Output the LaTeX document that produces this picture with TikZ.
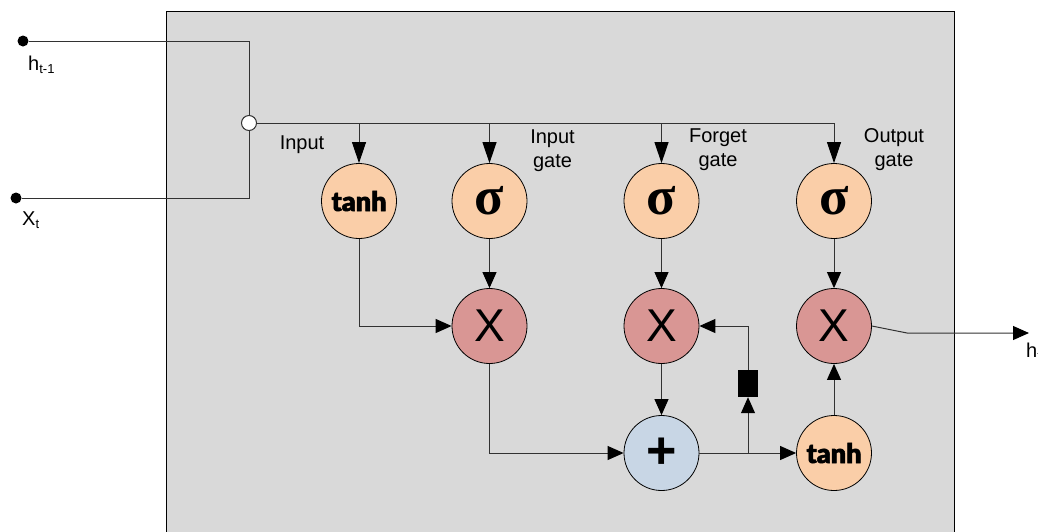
\documentclass[tikz,border=0pt]{standalone}
\usepackage{fontspec}
\setmainfont{Liberation Sans}
\newfontfamily\heavyfont{Lato Black}[FakeBold=2]
\newfontfamily\greekfont{Liberation Serif}
\usetikzlibrary{arrows.meta}

\definecolor{peach}{RGB}{250,206,168}
\definecolor{rose}{RGB}{217,150,148}
\definecolor{steel}{RGB}{200,214,229}
\definecolor{cellgray}{RGB}{217,217,217}
\definecolor{wirecol}{RGB}{50,50,50}

\tikzset{
  wire/.style={draw=wirecol, line width=1pt},
  arr/.style={wire, -{Triangle[length=16pt,width=14pt,color=black]}},
  longarr/.style={wire, -{Triangle[length=21pt,width=14pt,color=black]}},
  gate/.style={circle, draw=black, line width=0.8pt, minimum size=75pt, inner sep=0pt},
  act/.style={gate, fill=peach},
  mul/.style={gate, fill=rose, font=\fontsize{46}{46}\selectfont},
  addop/.style={gate, fill=steel, font=\bfseries\fontsize{52}{52}\selectfont},
  lbl/.style={font=\fontsize{20}{24}\selectfont, align=center, inner sep=0pt},
  dot/.style={circle, fill=black, minimum size=11pt, inner sep=0pt},
}
\newcommand{\tanhtext}{{\heavyfont\fontsize{27}{27}\selectfont tanh}}
\newcommand{\sigmatext}{{\greekfont\bfseries\fontsize{54}{54}\selectfont σ}}

\begin{document}
\begin{tikzpicture}[x=1pt,y=-1pt]
\useasboundingbox (0,0) rectangle (1038,531);

% cell background
\draw[fill=cellgray, draw=black, line width=1pt] (166,11) rectangle (954,545);

% inputs
\node[dot] (hin) at (23,41) {};
\node[dot] (xin) at (16,198) {};
\node[anchor=base west, inner sep=0pt, font=\fontsize{20}{20}\selectfont] (hlbl) at (28,70)
  {h\raisebox{-0.35ex}{\fontsize{13}{13}\selectfont t-1}};
\node[anchor=base west, inner sep=0pt, font=\fontsize{20}{20}\selectfont] (xlbl) at (22,225)
  {X\raisebox{-0.35ex}{\fontsize{13}{13}\selectfont t}};

\node[circle, draw=wirecol, fill=white, line width=1pt, minimum size=15pt, inner sep=0pt] (j) at (249,123) {};
\draw[wire] (hin) -- (249,41) -- (j);
\draw[wire] (xin) -- (249,198) -- (j);

% gates
\node[act] (tin) at (359,201) {\tanhtext};
\node[act] (sin) at (489.5,201) {\sigmatext};
\node[act] (sf) at (661.5,201) {\sigmatext};
\node[act] (so) at (834,201) {\sigmatext};
\node[mul] (min) at (489.5,326) {X};
\node[mul] (mf) at (661.5,326) {X};
\node[mul] (mo) at (834,326) {X};
\node[addop] (sum) at (661.5,453) {+};
\node[act] (tout) at (834,453) {\tanhtext};

% labels
\node[lbl] (l1) at (302,145) {Input};
\node[lbl] (l2) at (552.5,151) {Input\\gate};
\node[lbl] (l3) at (718,150) {Forget\\gate};
\node[lbl] (l4) at (894,150) {Output\\gate};

% bus
\coordinate (busend) at (834,123);
\draw[wire] (j) -- (busend);
\draw[longarr] (tin |- j) -- (tin);
\draw[longarr] (sin |- j) -- (sin);
\draw[longarr] (sf |- j) -- (sf);
\draw[longarr] (so |- j) -- (so);

% internal flow
\draw[arr] (tin) |- (min);
\draw[arr] (sin) -- (min);
\draw[arr] (sf) -- (mf);
\draw[arr] (so) -- (mo);
\draw[arr] (min) |- (sum);
\draw[arr] (mf) -- (sum);
\draw[arr] (sum) -- (tout);
\draw[arr] (tout) -- (mo);

% cell state delay
\coordinate (br) at (748,453);
\node[fill=black, minimum width=20pt, minimum height=27pt, inner sep=0pt] (delay) at (748,383.5) {};
\draw[arr] (br) -- (delay);
\draw[arr] (delay) |- (mf);

% output
\coordinate (bend) at (907,333);
\coordinate (hout) at (1029,333);
\draw[arr] (mo.east) -- (bend) -- (hout);
\node[anchor=base west, inner sep=0pt, font=\fontsize{20}{20}\selectfont] (hlbl2) at (1026,357)
  {h\raisebox{-0.35ex}{\fontsize{13}{13}\selectfont t}};
\end{tikzpicture}
\end{document}
